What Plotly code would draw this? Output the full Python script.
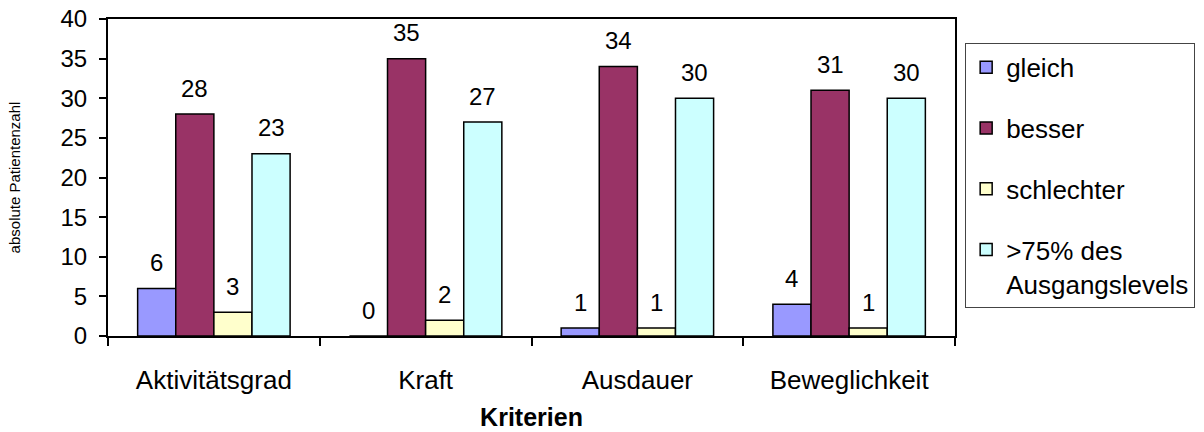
import plotly.graph_objects as go

# Kriterien und Ergebnisse (absolute Patientenzahl)
categories = ["Aktivitätsgrad", "Kraft", "Ausdauer", "Beweglichkeit"]
series_names = ["gleich", "besser", "schlechter", ">75% des<br>Ausgangslevels"]
gleich = [6, 0, 1, 4]
besser = [28, 35, 34, 31]
schlechter = [3, 2, 1, 1]
ueber75 = [23, 27, 30, 30]
colors = ["#9999FF", "#993366", "#FFFFCC", "#CCFFFF"]
y_ticks = [0, 5, 10, 15, 20, 25, 30, 35, 40]

FONT = "Liberation Sans, Arial, sans-serif"
BARGAP = 0.28

series_values = [gleich, besser, schlechter, ueber75]

fig = go.Figure()
for i, (name, vals, col) in enumerate(zip(series_names, series_values, colors)):
    fig.add_trace(go.Bar(
        x=categories,
        y=vals,
        name=name,
        legendgroup=f"g{i}",
        marker=dict(color=col, line=dict(color="black", width=1.5)),
    ))

# value labels above each bar, centred on the bar inside its group
n = len(series_values)
bar_w = (1 - BARGAP) / n
annotations = []
for i, vals in enumerate(series_values):
    offset = -(1 - BARGAP) / 2 + bar_w * (i + 0.5)
    for j, v in enumerate(vals):
        annotations.append(dict(
            x=j + offset, y=v, xref="x", yref="y",
            text=str(v), showarrow=False, yshift=26, yanchor="middle",
            font=dict(family=FONT, size=24, color="black"),
        ))

fig.update_layout(
    barmode="group",
    bargap=BARGAP,
    bargroupgap=0,
    width=1204,
    height=432,
    margin=dict(l=108, r=249, t=19, b=96, autoexpand=False),
    paper_bgcolor="white",
    plot_bgcolor="white",
    font=dict(family=FONT, color="black"),
    annotations=annotations,
    legend=dict(
        x=1.012, y=0.925, xanchor="left", yanchor="top",
        bordercolor="#444444", borderwidth=1, bgcolor="white",
        font=dict(family=FONT, size=26, color="black"),
        valign="top", traceorder="grouped", tracegroupgap=24,
    ),
    xaxis=dict(
        tickson="boundaries", ticks="outside", ticklen=8, tickwidth=1.5,
        tickcolor="black", ticklabelstandoff=20,
        showline=True, linecolor="black", linewidth=2, mirror=True,
        tickfont=dict(family=FONT, size=26, color="black"),
        title=dict(text="<b>Kriterien</b>", font=dict(family=FONT, size=25, color="black"),
                   standoff=14),
    ),
    yaxis=dict(
        range=[0, 40], tickvals=y_ticks, ticks="outside", ticklen=7, tickwidth=1.5,
        tickcolor="black", showgrid=False, zeroline=False, ticklabelstandoff=7,
        showline=True, linecolor="black", linewidth=2, mirror=True,
        tickfont=dict(family=FONT, size=24, color="black"),
        title=dict(text="absolute Patientenzahl", font=dict(family=FONT, size=15, color="black"),
                   standoff=36),
    ),
)

fig.write_html("out.html")
